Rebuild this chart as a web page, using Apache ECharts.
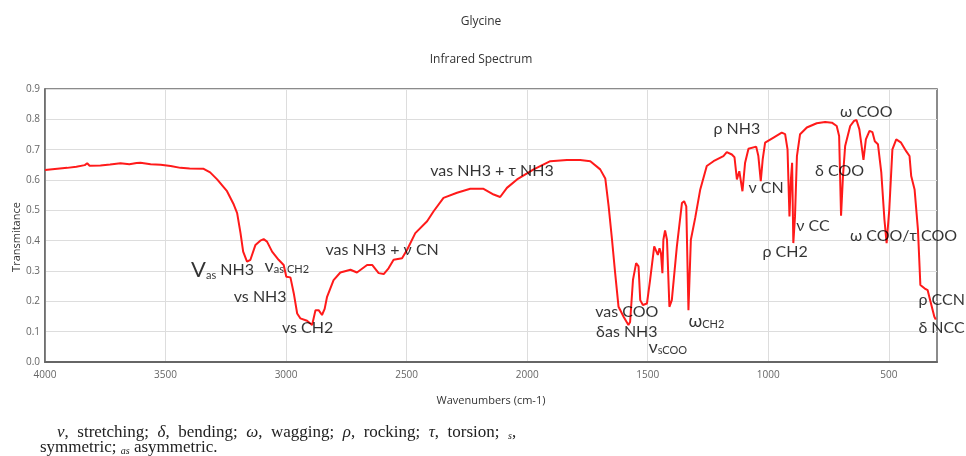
<!DOCTYPE html>
<html>
<head>
<meta charset="utf-8">
<title>Glycine Infrared Spectrum</title>
<script src="https://cdn.jsdelivr.net/npm/echarts@6/dist/echarts.min.js"></script>
<style>
  html, body { margin: 0; padding: 0; background: #fff; }
  #chart { width: 966px; height: 456px; }
</style>
</head>
<body>
<div id="chart"></div>
<script>
// spectrum (wavenumber in cm-1, transmittance)
var wavenumbers = [
    4000, 3908, 3870, 3835, 3825, 3815, 3770, 3730, 3687, 3650, 3620, 3604, 3562, 3520, 3479, 3438, 3400, 3342, 3315, 3286,
    3245, 3217, 3203, 3189, 3178, 3162, 3148, 3127, 3107, 3093, 3079, 3058, 3031, 3010, 2999, 2982, 2968, 2954, 2941, 2913,
    2892, 2878, 2865, 2851, 2840, 2830, 2803, 2775, 2733, 2706, 2664, 2643, 2616, 2595, 2575, 2554, 2519, 2498, 2464, 2415,
    2388, 2347, 2291, 2236, 2181, 2139, 2112, 2084, 2042, 1973, 1904, 1835, 1780, 1738, 1697, 1676, 1662, 1648, 1635, 1621,
    1600, 1580, 1573, 1561, 1548, 1538, 1531, 1520, 1503, 1490, 1473, 1465, 1458, 1451, 1445, 1439, 1435, 1428, 1420, 1410,
    1400, 1379, 1358, 1349, 1340, 1331, 1321, 1303, 1282, 1255, 1227, 1186, 1172, 1151, 1140, 1130, 1120, 1107, 1096, 1082,
    1050, 1041, 1031, 1023, 1013, 978, 944, 930, 920, 912, 906, 901, 896, 889, 881, 868, 840, 799, 764, 736,
    716, 706, 698, 690, 681, 660, 644, 634, 622, 605, 595, 580, 568, 558, 545, 531, 518, 509, 498, 485,
    469, 449, 428, 414, 407, 393, 379, 369, 352, 339, 325, 311, 305
];
var transmittance = [
    0.633, 0.640, 0.644, 0.649, 0.655, 0.647, 0.648, 0.651, 0.655, 0.652, 0.656, 0.657, 0.652, 0.650, 0.646, 0.640, 0.638, 0.637, 0.625, 0.602,
    0.563, 0.519, 0.491, 0.425, 0.364, 0.331, 0.337, 0.386, 0.400, 0.405, 0.397, 0.364, 0.337, 0.320, 0.281, 0.279, 0.226, 0.160, 0.144, 0.136,
    0.122, 0.171, 0.171, 0.155, 0.175, 0.215, 0.270, 0.295, 0.304, 0.295, 0.320, 0.320, 0.293, 0.290, 0.309, 0.337, 0.342, 0.370, 0.425, 0.464,
    0.497, 0.541, 0.558, 0.571, 0.571, 0.552, 0.544, 0.574, 0.602, 0.635, 0.662, 0.666, 0.666, 0.662, 0.635, 0.605, 0.513, 0.403, 0.293, 0.182,
    0.149, 0.122, 0.132, 0.271, 0.326, 0.315, 0.204, 0.188, 0.193, 0.271, 0.381, 0.386, 0.353, 0.375, 0.359, 0.293, 0.403, 0.434, 0.403, 0.182,
    0.204, 0.381, 0.524, 0.530, 0.513, 0.171, 0.403, 0.475, 0.569, 0.646, 0.662, 0.679, 0.692, 0.684, 0.675, 0.602, 0.629, 0.563, 0.657, 0.703,
    0.710, 0.679, 0.596, 0.668, 0.723, 0.740, 0.756, 0.751, 0.701, 0.480, 0.602, 0.657, 0.392, 0.480, 0.679, 0.751, 0.773, 0.787, 0.791, 0.789,
    0.778, 0.745, 0.482, 0.613, 0.712, 0.778, 0.795, 0.798, 0.767, 0.666, 0.734, 0.762, 0.758, 0.728, 0.718, 0.624, 0.469, 0.392, 0.502, 0.701,
    0.734, 0.723, 0.695, 0.679, 0.613, 0.569, 0.436, 0.254, 0.243, 0.237, 0.193, 0.149, 0.140
];

// band assignments: text (rich markup), anchor wavenumber, anchor transmittance (left edge / middle of the text)
var bandLabels = [
    '{big|V}{sub|as}{t| NH3}',
    '{m|ν}{sub|as CH2}',
    '{t|vs NH3}',
    '{t|vs CH2}',
    '{t|vas NH3 + ν CN}',
    '{t|vas NH3 + τ NH3}',
    '{t|vas COO}',
    '{t|δas NH3}',
    '{m|ν}{sub|sCOO}',
    '{m|ω}{sub|CH2}',
    '{t|ρ NH3}',
    '{t|ν CN}',
    '{t|ν CC}',
    '{t|ρ CH2}',
    '{t|ω COO}',
    '{t|δ COO}',
    '{t|ω COO/τ COO}',
    '{t|ρ CCN}',
    '{t|δ NCC}'
];
var bandWn = [3394, 3089, 3217, 3017, 2837, 2402, 1718, 1714, 1497, 1331, 1227, 1082, 884, 1024, 702, 806, 661, 377, 377];
var bandT  = [0.304, 0.317, 0.215, 0.111, 0.370, 0.629, 0.166, 0.099, 0.050, 0.135, 0.767, 0.574, 0.449, 0.364, 0.824, 0.629, 0.416, 0.204, 0.111];

var xTicks = [500, 1000, 1500, 2000, 2500, 3000, 3500, 4000];

var spectrum = [];
for (var i = 0; i < wavenumbers.length; i++) {
    spectrum.push([wavenumbers[i], transmittance[i]]);
}
var bands = [];
for (var j = 0; j < bandLabels.length; j++) {
    bands.push({ value: [bandWn[j], bandT[j]], name: bandLabels[j] });
}

var labelFont = 'Lato, "Open Sans", sans-serif';
var serif = '"Liberation Serif", serif';

var chart = echarts.init(document.getElementById('chart'));
var option = {
    animation: false,
    backgroundColor: '#fff',
    title: [
        {
            text: 'Glycine',
            left: 476, top: 11,
            textAlign: 'center',
            textStyle: { fontSize: 12, fontWeight: 'normal', color: '#333', fontFamily: '"Open Sans", sans-serif' }
        },
        {
            text: 'Infrared Spectrum',
            left: 476, top: 49,
            textAlign: 'center',
            textStyle: { fontSize: 12, fontWeight: 'normal', color: '#333', fontFamily: '"Open Sans", sans-serif' }
        }
    ],
    grid: {
        left: 45, right: 29, top: 89, bottom: 94,
        show: true,
        borderColor: '#666',
        borderWidth: 1.5
    },
    xAxis: {
        type: 'value',
        inverse: true,
        min: 300,
        max: 4000,
        name: 'Wavenumbers (cm-1)',
        nameLocation: 'middle',
        nameGap: 33,
        nameTextStyle: { fontSize: 11, color: '#333', fontFamily: '"Open Sans", sans-serif' },
        axisLine: { show: true, onZero: false, lineStyle: { color: '#666', width: 2 } },
        axisTick: { show: false, customValues: xTicks },
        axisLabel: {
            customValues: xTicks, fontSize: 10, color: '#666', margin: 8, fontFamily: '"Open Sans", sans-serif',
            formatter: function (v) { return String(v); }
        },
        splitLine: { show: true, lineStyle: { color: '#ddd', width: 1 } }
    },
    yAxis: {
        type: 'value',
        min: 0,
        max: 0.9,
        interval: 0.1,
        axisLine: { show: true, lineStyle: { color: '#666', width: 1.5 } },
        axisTick: { show: false },
        axisLabel: {
            fontSize: 10, color: '#666', margin: 5, fontFamily: '"Open Sans", sans-serif',
            formatter: function (v) { return v.toFixed(1); }
        },
        splitLine: { show: true, lineStyle: { color: '#ddd', width: 1 } }
    },
    graphic: [
        {
            type: 'text',
            x: 17, y: 237,
            rotation: Math.PI / 2,
            style: {
                text: 'Transmitance',
                fontSize: 11,
                fill: '#333',
                fontFamily: '"Open Sans", sans-serif',
                align: 'center',
                verticalAlign: 'middle'
            }
        },
        {
            type: 'text',
            x: 57, y: 433,
            style: {
                text: '{i|ν},  stretching;  {i|δ},  bending;  {i|ω},  wagging;  {i|ρ},  rocking;  {i|τ},  torsion;  {sb|s},',
                fontSize: 17,
                fill: '#222',
                fontFamily: serif,
                verticalAlign: 'middle',
                rich: {
                    i: { fontSize: 17, fontStyle: 'italic', fontFamily: serif, fill: '#222' },
                    sb: { fontSize: 10, fontStyle: 'italic', fontFamily: serif, fill: '#222', verticalAlign: 'bottom' }
                }
            }
        },
        {
            type: 'text',
            x: 40, y: 448,
            style: {
                text: 'symmetric; {sb|as} asymmetric.',
                fontSize: 17,
                fill: '#222',
                fontFamily: serif,
                verticalAlign: 'middle',
                rich: {
                    sb: { fontSize: 10, fontStyle: 'italic', fontFamily: serif, fill: '#222', verticalAlign: 'bottom' }
                }
            }
        }
    ],
    series: [
        {
            name: 'Glycine',
            type: 'line',
            data: spectrum,
            showSymbol: false,
            symbol: 'none',
            lineStyle: { color: '#ff1a1a', width: 2 },
            z: 3
        },
        {
            name: 'bands',
            type: 'scatter',
            data: bands,
            symbolSize: 0,
            silent: true,
            clip: false,
            z: 4,
            label: {
                show: true,
                position: 'right',
                distance: 0,
                formatter: function (p) { return p.name; },
                rich: {
                    t: { fontSize: 16, color: '#000', fontFamily: labelFont },
                    m: { fontSize: 18, color: '#000', fontFamily: labelFont },
                    big: { fontSize: 22, color: '#000', fontFamily: labelFont },
                    sub: { fontSize: 11, color: '#000', fontFamily: labelFont, verticalAlign: 'bottom' }
                }
            }
        }
    ]
};
chart.setOption(option);
</script>
</body>
</html>
